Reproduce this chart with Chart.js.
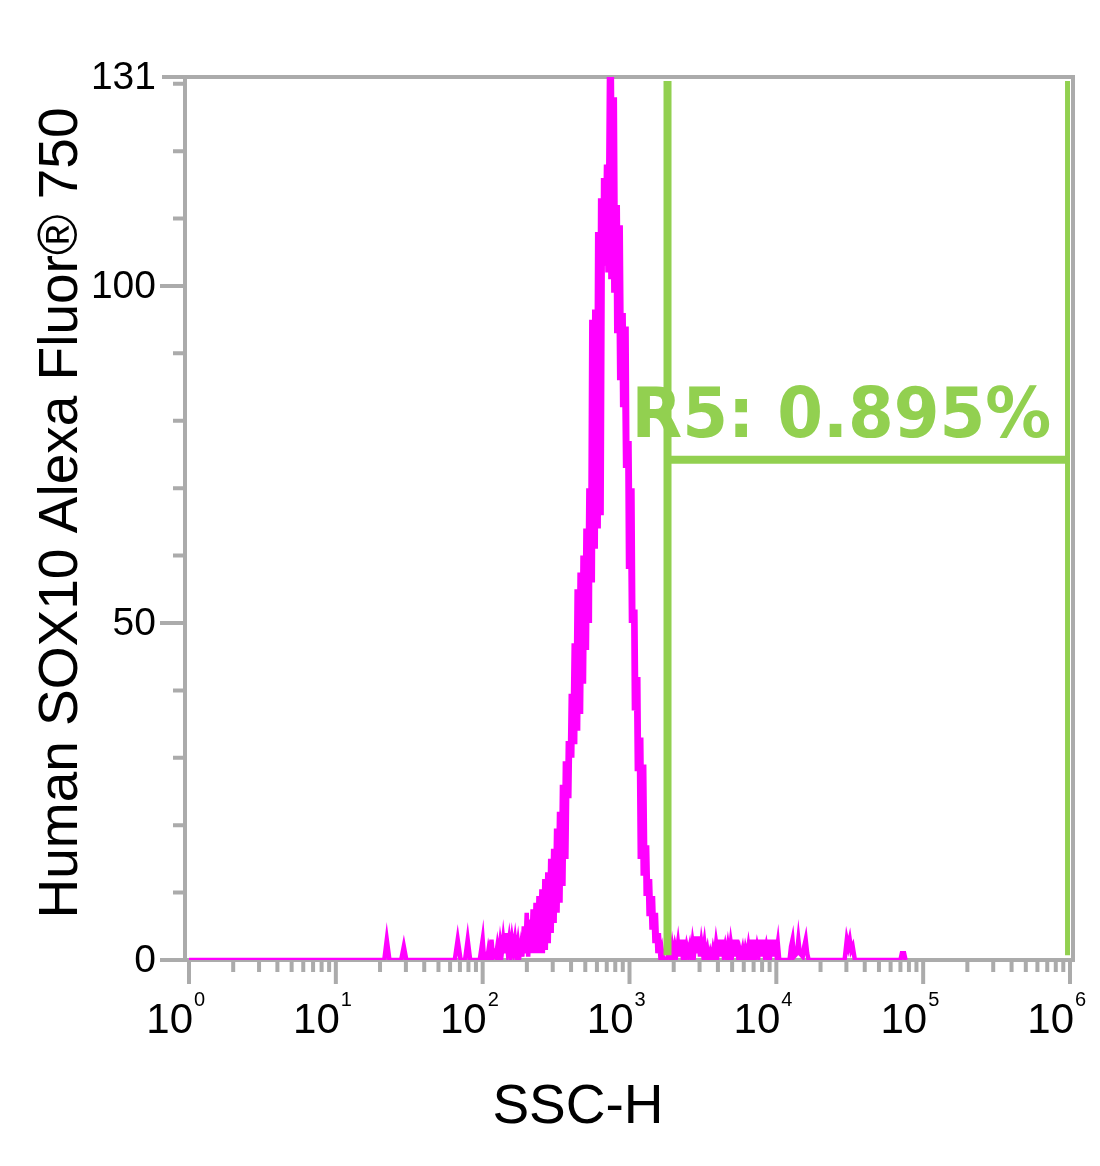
<!DOCTYPE html>
<html>
<head>
<meta charset="utf-8">
<script src="https://cdn.jsdelivr.net/npm/chart.js@4"></script>
<style>
  html, body { margin: 0; padding: 0; background: #ffffff; }
  #wrap { width: 1100px; height: 1166px; position: relative; }
</style>
</head>
<body>
<div id="wrap"><canvas id="c" width="1100" height="1166"></canvas></div>
<script>
// ---- data (histogram) ----
// log10(SSC-H) position of each histogram point
const sscDecade = [
  0.00, 1.33, 1.347, 1.365, 1.445, 1.463, 1.48,
  1.81, 1.83, 1.85, 1.88, 1.898, 1.915, 1.98,
  2.00, 2.01, 2.02, 2.03, 2.04, 2.05, 2.06, 2.07, 2.08, 2.09,
  2.10, 2.11, 2.12, 2.13, 2.14, 2.15, 2.16, 2.17, 2.18, 2.19,
  2.20, 2.21, 2.22, 2.23, 2.24, 2.25, 2.26, 2.27, 2.28, 2.29,
  2.30, 2.31, 2.32, 2.33, 2.34, 2.35, 2.36, 2.37, 2.38, 2.39,
  2.40, 2.41, 2.42, 2.43, 2.44, 2.45, 2.46, 2.47, 2.48, 2.49,
  2.50, 2.51, 2.52, 2.53, 2.54, 2.55, 2.56, 2.57, 2.58, 2.59,
  2.60, 2.61, 2.62, 2.63, 2.64, 2.65, 2.66, 2.67, 2.68, 2.69,
  2.70, 2.71, 2.72, 2.73, 2.74, 2.75, 2.76, 2.77, 2.78, 2.79,
  2.80, 2.81, 2.82, 2.83, 2.84, 2.85, 2.86, 2.87, 2.88, 2.89,
  2.90, 2.91, 2.92, 2.93, 2.94, 2.95, 2.96, 2.97, 2.98, 2.99,
  3.00, 3.01, 3.02, 3.03, 3.04, 3.05, 3.06, 3.07, 3.08, 3.09,
  3.10, 3.11, 3.12, 3.13, 3.14, 3.15, 3.16, 3.17, 3.18, 3.19,
  3.20, 3.21, 3.22, 3.23, 3.24, 3.25, 3.26, 3.27, 3.28, 3.29,
  3.30, 3.31, 3.32, 3.33, 3.34, 3.35, 3.36, 3.37, 3.38, 3.39,
  3.40, 3.41, 3.42, 3.43, 3.44, 3.45, 3.46, 3.47, 3.48, 3.49,
  3.50, 3.51, 3.52, 3.53, 3.54, 3.55, 3.56, 3.57, 3.58, 3.59,
  3.60, 3.61, 3.62, 3.63, 3.64, 3.65, 3.66, 3.67, 3.68, 3.69,
  3.70, 3.71, 3.72, 3.73, 3.74, 3.75, 3.76, 3.77, 3.78, 3.79,
  3.80, 3.81, 3.82, 3.83, 3.84, 3.85, 3.86, 3.87, 3.88, 3.89,
  3.90, 3.91, 3.92, 3.93, 3.94, 3.95, 3.96, 3.97, 3.98, 3.99,
  4.00, 4.01, 4.02, 4.09, 4.10, 4.11, 4.12, 4.14, 4.15, 4.16,
  4.18, 4.19, 4.20, 4.21, 4.22, 4.465, 4.48, 4.49, 4.50, 4.51,
  4.52, 4.535, 4.845, 4.855, 4.87, 4.88
];
// event count at each point
const counts = [
  0, 0, 3, 0, 0, 2, 0,
  0, 3, 0, 0, 3, 0, 0,
  3, 0, 0.5, 0, 1.5, 0.5, 3, 0.5, 1, 0.5,
  2, 0.5, 2.5, 1, 3, 1, 4, 1.5, 3, 1,
  3, 1.5, 3, 1, 2.5, 0.5, 2, 0.5, 5, 1,
  7, 0.5, 6, 1, 7.5, 1, 8.5, 1, 9.5, 1,
  10.5, 1, 12, 1.5, 13, 2.5, 15, 4, 16.5, 5.5,
  19.5, 7, 22, 8.5, 26, 11, 29.5, 15, 32.5, 24,
  39.5, 30, 47, 32, 55, 34, 57.5, 36.5, 60, 41,
  64, 46, 70, 50, 95, 56, 96.5, 61, 108, 64,
  113, 66, 116, 103, 118, 102, 131, 101, 131, 99,
  128, 93, 112, 86, 109, 82, 96, 73, 94, 58,
  77, 50, 70, 37, 52, 28, 42, 15, 33, 12.5,
  29, 9.5, 17, 6.5, 12, 4.5, 9.5, 2.5, 7, 1,
  4, 0.5, 1.5, 0, 0, 0, 0.5, 1.5, 0.5, 2,
  0.5, 2, 1, 2.5, 0.5, 3, 1, 3, 0.5, 2,
  1, 2, 0.5, 2.5, 1, 3.5, 1, 3.5, 0.5, 2.5,
  1, 2.5, 0.5, 1.5, 0, 1, 0, 1.5, 0.5, 2.5,
  1, 3, 0.5, 3, 1, 2, 0.5, 2, 0.5, 2.5,
  1, 3, 0.5, 3, 0.5, 1.5, 0.5, 1.5, 0, 1.5,
  0.5, 2, 0.5, 3, 1, 3, 0.5, 2, 1, 3,
  0.5, 3, 1, 2, 0.5, 3, 1, 3, 0.5, 3,
  1, 2.5, 0, 0, 2, 3, 0.5, 1, 3, 1,
  0.5, 2, 3, 1, 0, 0, 3, 2, 3, 1.5,
  2, 0, 0, 1, 1, 0
];
const xDecades = [0, 1, 2, 3, 4, 5, 6];
const yMajorTicks = [0, 50, 100];
const yMinorTicks = [10, 20, 30, 40, 60, 70, 80, 90, 110, 120, 130];
const yTickLabels = ['0', '50', '100', '131'];
const yLabelValues = [0, 50, 100, 131];
const yMax = 131;
const gateLow = 1815;
const gateHigh = 985000;
const gateLevel = 74.2;
const gateTop = 130.4;
const gateBottom = 0.7;
const gateLabel = 'R5: 0.895%';
const xTitle = 'SSC-H';
const yTitle = 'Human SOX10 Alexa Fluor\u00AE 750';

// ---- styles ----
const MAGENTA = '#ff00ff';
const GREEN = '#92d050';
const GRAY = '#ababab';

const histPoints = sscDecade.map((d, i) => ({ x: Math.pow(10, d), y: counts[i] }));

const axesPlugin = {
  id: 'flowAxes',
  beforeDatasetsDraw(chart) {
    const ctx = chart.ctx;
    const xs = chart.scales.x, ys = chart.scales.y;
    const y0 = ys.getPixelForValue(0);
    const yTop = ys.getPixelForValue(yMax);
    const xL = xs.getPixelForValue(1) - 4;
    const xR = xs.getPixelForValue(1e6) + 3;
    ctx.save();
    ctx.strokeStyle = GRAY;
    ctx.lineWidth = 4;
    ctx.lineCap = 'butt';
    ctx.beginPath();
    // frame
    ctx.moveTo(xL, yTop); ctx.lineTo(xL, y0 + 2);
    ctx.moveTo(xL - 23, yTop); ctx.lineTo(xR + 2, yTop);
    ctx.moveTo(xR, yTop); ctx.lineTo(xR, y0 + 2);
    ctx.moveTo(xL - 25, y0); ctx.lineTo(xR + 2, y0);
    // y ticks
    yMajorTicks.forEach(v => {
      const p = ys.getPixelForValue(v);
      ctx.moveTo(xL - 25, p); ctx.lineTo(xL, p);
    });
    yMinorTicks.forEach(v => {
      const p = ys.getPixelForValue(v);
      ctx.moveTo(xL - 12, p); ctx.lineTo(xL, p);
    });
    // x ticks
    xDecades.forEach(n => {
      const p = xs.getPixelForValue(Math.pow(10, n));
      ctx.moveTo(p, y0); ctx.lineTo(p, y0 + 24);
      if (n < 6) {
        for (let k = 2; k <= 9; k++) {
          const q = xs.getPixelForValue(k * Math.pow(10, n));
          ctx.moveTo(q, y0); ctx.lineTo(q, y0 + 12);
        }
      }
    });
    ctx.stroke();

    // tick labels
    ctx.fillStyle = '#000000';
    ctx.textBaseline = 'alphabetic';
    ctx.font = '39px "Liberation Sans", Arial, sans-serif';
    ctx.textAlign = 'right';
    yLabelValues.forEach((v, i) => {
      const p = ys.getPixelForValue(v);
      ctx.fillText(yTickLabels[i], xL - 29, p + 12);
    });
    xDecades.forEach(n => {
      const p = xs.getPixelForValue(Math.pow(10, n));
      ctx.font = '42px "Liberation Sans", Arial, sans-serif';
      ctx.textAlign = 'right';
      ctx.fillText('10', p + 4, y0 + 73);
      ctx.font = '20px "Liberation Sans", Arial, sans-serif';
      ctx.textAlign = 'left';
      ctx.fillText(String(n), p + 5, y0 + 46);
    });

    // axis titles
    ctx.font = '55px "Liberation Sans", Arial, sans-serif';
    ctx.textAlign = 'center';
    ctx.fillText(xTitle, 578, 1123);
    ctx.save();
    ctx.translate(77, 513);
    ctx.rotate(-Math.PI / 2);
    ctx.font = '55px "Liberation Sans", Arial, sans-serif';
    ctx.fillText(yTitle, 0, 0);
    ctx.restore();
    ctx.restore();
  },
  afterDatasetsDraw(chart) {
    const ctx = chart.ctx;
    const xs = chart.scales.x, ys = chart.scales.y;
    const gx = xs.getPixelForValue(gateLow);
    const gy = ys.getPixelForValue(gateLevel);
    ctx.save();
    ctx.fillStyle = GREEN;
    ctx.textBaseline = 'alphabetic';
    ctx.textAlign = 'left';
    ctx.font = 'bold 70px "DejaVu Sans", Verdana, sans-serif';
    ctx.translate(gx - 36, gy - 23);
    ctx.scale(0.94, 1);
    ctx.fillText(gateLabel, 0, 0);
    ctx.restore();
  }
};

new Chart(document.getElementById('c'), {
  type: 'line',
  data: {
    datasets: [
      {
        data: [{ x: gateLow, y: gateTop }, { x: gateLow, y: gateBottom }],
        borderColor: GREEN, borderWidth: 8, pointRadius: 0, fill: false, borderCapStyle: 'butt'
      },
      {
        data: [{ x: gateLow, y: gateLevel }, { x: gateHigh, y: gateLevel }],
        borderColor: GREEN, borderWidth: 8, pointRadius: 0, fill: false, borderCapStyle: 'butt'
      },
      {
        data: [{ x: gateHigh, y: gateTop }, { x: gateHigh, y: gateBottom }],
        borderColor: GREEN, borderWidth: 8, pointRadius: 0, fill: false, borderCapStyle: 'butt'
      },
      {
        data: histPoints,
        borderColor: MAGENTA, borderWidth: 4.5, pointRadius: 0, fill: false,
        tension: 0, borderJoinStyle: 'miter'
      }
    ]
  },
  options: {
    responsive: false,
    animation: false,
    devicePixelRatio: 1,
    layout: { padding: { left: 189, right: 30, top: 77, bottom: 206 } },
    plugins: { legend: { display: false }, tooltip: { enabled: false } },
    scales: {
      x: { type: 'logarithmic', min: 1, max: 1e6, display: false },
      y: { type: 'linear', min: 0, max: yMax, display: false }
    }
  },
  plugins: [axesPlugin]
});
</script>
</body>
</html>
